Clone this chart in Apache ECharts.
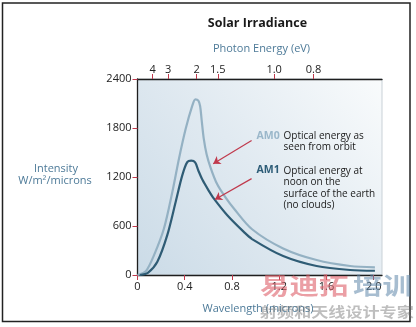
<!DOCTYPE html>
<html>
<head>
<meta charset="utf-8">
<script src="https://cdn.jsdelivr.net/npm/echarts@6/dist/echarts.min.js"></script>
<style>
  html, body { margin: 0; padding: 0; background: #fff; }
  #chart { width: 416px; height: 327px; }
</style>
</head>
<body>
<div id="chart"></div>
<script>
// Spectral irradiance, wavelength (microns) vs intensity (W/m²/micron)
const am0 = [
  [0, 0], [0.07, 45], [0.14, 244], [0.224, 570], [0.295, 1016], [0.351, 1424],
  [0.408, 1790], [0.464, 2074], [0.49, 2150], [0.515, 2135], [0.53, 2070],
  [0.543, 1900], [0.56, 1680], [0.585, 1480], [0.62, 1310], [0.675, 1110],
  [0.745, 950], [0.816, 814], [0.97, 560], [1.233, 325], [1.516, 183],
  [1.8, 110], [2.01, 94]
];
const am1 = [
  [0.02, 0], [0.09, 30], [0.168, 162], [0.252, 488], [0.323, 894], [0.379, 1220],
  [0.421, 1382], [0.455, 1400], [0.488, 1378], [0.515, 1280], [0.55, 1165],
  [0.6, 1040], [0.647, 935], [0.76, 732], [0.9, 528], [0.97, 440], [1.233, 232],
  [1.516, 110], [1.8, 61], [2.01, 52]
];

// bottom axis ticks (microns) and left axis ticks
const wavelengthTicks = [0, 0.4, 0.8, 1.2, 1.6, 2.0];
const intensityTicks = [0, 600, 1200, 1800, 2400];

// photon energy scale along the top: labels and their wavelength positions
const energyLabels = ['4', '3', '2', '1.5', '1.0', '0.8'];
const energyPositions = [0.129, 0.26, 0.50, 0.68, 1.157, 1.49];

// callout arrows: [start, end] in data units
const arrowAM0 = [[0.966, 1647], [0.641, 1363]];
const arrowAM1 = [[0.966, 1180], [0.656, 924]];

const FONT = 'Open Sans';
const RED = '#c0394c';
const LABEL_BLUE = '#4d7a98';

const chart = echarts.init(document.getElementById('chart'), null, { renderer: 'canvas' });

const option = {
  animation: false,
  textStyle: { fontFamily: FONT },
  grid: {
    left: 137.5, top: 79, right: 34, bottom: 52,
    show: true,
    borderColor: '#c9d1d7',
    borderWidth: 1,
    backgroundColor: new echarts.graphic.LinearGradient(0, 1, 1, 0, [
      { offset: 0, color: '#cbdbe7' },
      { offset: 0.5, color: '#e1eaf1' },
      { offset: 1, color: '#f9fbfc' }
    ])
  },
  xAxis: [
    {
      type: 'value', position: 'bottom', min: 0, max: 2.07,
      axisLine: { show: true, lineStyle: { color: '#1e1e1e', width: 1.3 } },
      axisTick: { show: true, customValues: wavelengthTicks, length: 5, lineStyle: { color: RED } },
      axisLabel: {
        customValues: wavelengthTicks, margin: 6, color: '#222', fontSize: 11, fontFamily: FONT,
        formatter: v => (v === 0 ? '0' : v.toFixed(1))
      },
      splitLine: { show: false }
    },
    {
      type: 'value', position: 'top', min: 0, max: 2.07,
      axisLine: { show: true, lineStyle: { color: '#1e1e1e', width: 1.3 } },
      axisTick: { show: true, customValues: energyPositions, length: 5, lineStyle: { color: RED } },
      axisLabel: {
        customValues: energyPositions, margin: 4, color: '#222', fontSize: 11, fontFamily: FONT,
        formatter: v => {
          const i = energyPositions.findIndex(p => Math.abs(p - v) < 1e-6);
          return i >= 0 ? energyLabels[i] : '';
        }
      },
      splitLine: { show: false }
    }
  ],
  yAxis: {
    type: 'value', min: 0, max: 2400, interval: 600,
    axisLine: { show: true, lineStyle: { color: '#1e1e1e', width: 1.3 } },
    axisTick: { show: true, length: 5, lineStyle: { color: RED } },
    axisLabel: { margin: 6, color: '#222', fontSize: 11, fontFamily: FONT,
      customValues: intensityTicks, formatter: v => String(v) },
    splitLine: { show: false }
  },
  series: [
    {
      name: 'AM0', type: 'line', data: am0, smooth: 0.3, showSymbol: false,
      lineStyle: { color: '#94b1c3', width: 2.2 },
      markLine: {
        silent: true, symbol: ['none', 'arrow'], symbolSize: 7,
        lineStyle: { color: RED, width: 1.2, type: 'solid' },
        label: { show: false },
        data: [
          [{ coord: arrowAM0[0] }, { coord: arrowAM0[1] }],
          [{ coord: arrowAM1[0] }, { coord: arrowAM1[1] }]
        ]
      }
    },
    {
      name: 'AM1', type: 'line', data: am1, smooth: 0.3, showSymbol: false,
      lineStyle: { color: '#2f5c75', width: 2.2 }
    }
  ],
  graphic: [
    // outer frame
    { type: 'rect', shape: { x: 2.5, y: 3, width: 407.5, height: 318.5 },
      style: { fill: 'none', stroke: '#222', lineWidth: 1.5 }, z: 1 },
    { type: 'text', x: 257.5, y: 23, style: { text: 'Solar Irradiance', fill: '#1a1a1a',
      font: `bold 12.5px "${FONT}"`, textAlign: 'center', textVerticalAlign: 'middle' } },
    { type: 'text', x: 261.5, y: 49, style: { text: 'Photon Energy (eV)', fill: LABEL_BLUE,
      font: `11px "${FONT}"`, textAlign: 'center', textVerticalAlign: 'middle' } },
    { type: 'text', x: 258, y: 309, style: { text: 'Wavelength (microns)', fill: LABEL_BLUE,
      font: `11px "${FONT}"`, textAlign: 'center', textVerticalAlign: 'middle' } },
    { type: 'text', x: 56, y: 169, style: { text: 'Intensity', fill: LABEL_BLUE,
      font: `11px "${FONT}"`, textAlign: 'center', textVerticalAlign: 'middle' } },
    { type: 'text', x: 55, y: 181, style: { text: 'W/m²/microns', fill: LABEL_BLUE,
      font: `11px "${FONT}"`, textAlign: 'center', textVerticalAlign: 'middle' } },
    // legend callouts
    { type: 'text', x: 256.5, y: 136.5, style: { text: 'AM0', fill: '#9ab7ca',
      font: `bold 10.5px "${FONT}"`, textVerticalAlign: 'middle' } },
    { type: 'text', x: 283.5, y: 131, style: { text: 'Optical energy as\nseen from orbit', fill: '#1a1a1a',
      font: `10px "${FONT}"`, lineHeight: 10.8, textVerticalAlign: 'top' } },
    { type: 'text', x: 256.5, y: 170.5, style: { text: 'AM1', fill: '#2d5c77',
      font: `bold 10.5px "${FONT}"`, textVerticalAlign: 'middle' } },
    { type: 'text', x: 283.5, y: 165, style: { text: 'Optical energy at\nnoon on the\nsurface of the earth\n(no clouds)', fill: '#1a1a1a',
      font: `10px "${FONT}"`, lineHeight: 11.6, textVerticalAlign: 'top' } },
    // site watermark
    { type: 'text', x: 260, y: 274, scaleX: 1.28, z: 100, style: { text: '易迪拓', fill: 'rgba(222,95,105,0.6)',
      font: 'bold 23px "Noto Sans CJK SC"', textVerticalAlign: 'top' } },
    { type: 'text', x: 353, y: 274, scaleX: 1.28, z: 100, style: { text: '培训', fill: 'rgba(95,135,170,0.55)',
      font: 'bold 23px "Noto Sans CJK SC"', textVerticalAlign: 'top' } },
    { type: 'text', x: 260, y: 305, scaleX: 1.22, z: 100, style: { text: '射频和天线设计专家', fill: 'rgba(110,110,110,0.45)',
      font: 'bold 14px "Noto Sans CJK SC"', textVerticalAlign: 'top' } }
  ]
};

chart.setOption(option);
</script>
</body>
</html>
